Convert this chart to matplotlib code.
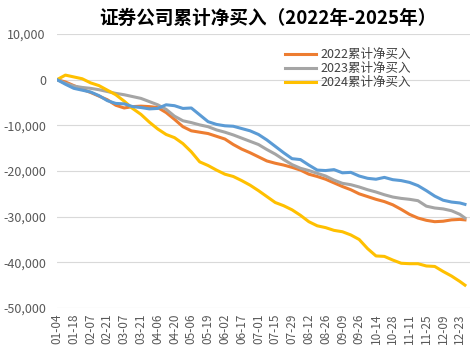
import numpy as np
import matplotlib
matplotlib.use('Agg')
import matplotlib.pyplot as plt
from matplotlib.ticker import FuncFormatter

plt.rcParams['font.family'] = ['Noto Sans CJK SC', 'DejaVu Sans']

# trading-day index of each reading (every 5 days, last day = 243)
day_idx = list(range(0, 241, 5)) + [243]

y2022 = [0, -500, -1300, -2100, -2800, -3600, -4400, -5600, -6200, -5900,
         -5800, -5900, -6100, -7200, -8700, -10300, -11200, -11500, -11800, -12400,
         -13000, -14200, -15200, -16000, -16900, -17800, -18300, -18700, -19200, -19800,
         -20700, -21200, -21800, -22600, -23400, -24100, -25000, -25600, -26200, -26700,
         -27400, -28400, -29500, -30300, -30800, -31100, -31000, -30700, -30600, -30700]

y2023 = [0, -800, -1400, -1700, -1900, -2200, -2600, -3000, -3300, -3700,
         -4100, -4800, -5500, -6500, -8000, -9000, -9400, -9900, -10300, -11000,
         -11500, -12100, -12800, -13500, -14200, -15300, -16300, -17500, -18600, -19400,
         -19900, -20500, -21100, -22000, -22700, -23000, -23500, -24100, -24600, -25200,
         -25700, -26000, -26200, -26500, -27700, -28100, -28300, -28700, -29500, -30300]

y2024 = [0, 1000, 600, 200, -700, -1300, -2300, -3300, -4700, -6300,
         -7600, -9300, -10800, -12000, -12700, -14000, -15800, -18000, -18800, -19800,
         -20700, -21200, -22100, -23100, -24300, -25600, -26900, -27600, -28500, -29700,
         -31100, -32000, -32400, -33000, -33300, -34000, -35000, -37000, -38600, -38700,
         -39500, -40200, -40300, -40300, -40800, -40900, -42000, -43000, -44200, -45000]

y_blue = [0, -1000, -1900, -2300, -2700, -3500, -4600, -5200, -5300, -5900,
          -6100, -6400, -6300, -5500, -5700, -6300, -6200, -7700, -9200, -9800,
          -10100, -10200, -10700, -11200, -12000, -13200, -14600, -16000, -17300, -17500,
          -18700, -19800, -19900, -19700, -20400, -20300, -21100, -21600, -21800, -21400,
          -21900, -22100, -22500, -23200, -24300, -25500, -26400, -26800, -27000, -27300]

date_labels = ['01-04', '01-18', '02-07', '02-21', '03-07', '03-21', '04-06', '04-20',
               '05-06', '05-19', '06-02', '06-17', '07-01', '07-15', '07-29', '08-12',
               '08-26', '09-09', '09-26', '10-14', '10-28', '11-11', '11-25', '12-09', '12-23']
y_ticks = [10000, 0, -10000, -20000, -30000, -40000, -50000]

fig = plt.figure(figsize=(4.73, 3.62), dpi=100)
ax = fig.add_axes([57 / 473, 1 - 308 / 362, (470 - 57) / 473, (308 - 34) / 362])

ax.plot(day_idx, y2022, color='#ED7D31', lw=2.2, label='2022累计净买入')
ax.plot(day_idx, y2023, color='#A5A5A5', lw=2.2, label='2023累计净买入')
ax.plot(day_idx, y2024, color='#FFC000', lw=2.2, label='2024累计净买入')
ax.plot(day_idx, y_blue, color='#5B9BD5', lw=2.2)

ax.set_xlim(0, 246)
ax.set_ylim(-50000, 10000)
ax.set_yticks(y_ticks)
ax.yaxis.set_major_formatter(FuncFormatter(lambda v, p: f'{int(v):,}'))
ax.set_xticks(range(0, 241, 10))
ax.set_xticklabels(date_labels, rotation=90)
ax.tick_params(axis='both', length=0, colors='#595959', labelsize=8.5)
ax.tick_params(axis='y', labelsize=9, pad=8)
ax.tick_params(axis='x', pad=4)
for s in ax.spines.values():
    s.set_visible(False)
ax.grid(axis='y', color='#D9D9D9', lw=0.8)
ax.set_axisbelow(True)

fig.text(268 / 473, 1 - 18 / 362, '证券公司累计净买入（2022年-2025年）', fontsize=13.4,
         fontweight='bold', ha='center', va='center', color='black')

leg = ax.legend(loc='upper left', bbox_to_anchor=(0.54, 0.967), frameon=False,
                fontsize=9, handlelength=2.5, handletextpad=0.3, labelspacing=0.08,
                borderaxespad=0)
for t in leg.get_texts():
    t.set_color('#404040')

fig.savefig('out.png', dpi=100)
